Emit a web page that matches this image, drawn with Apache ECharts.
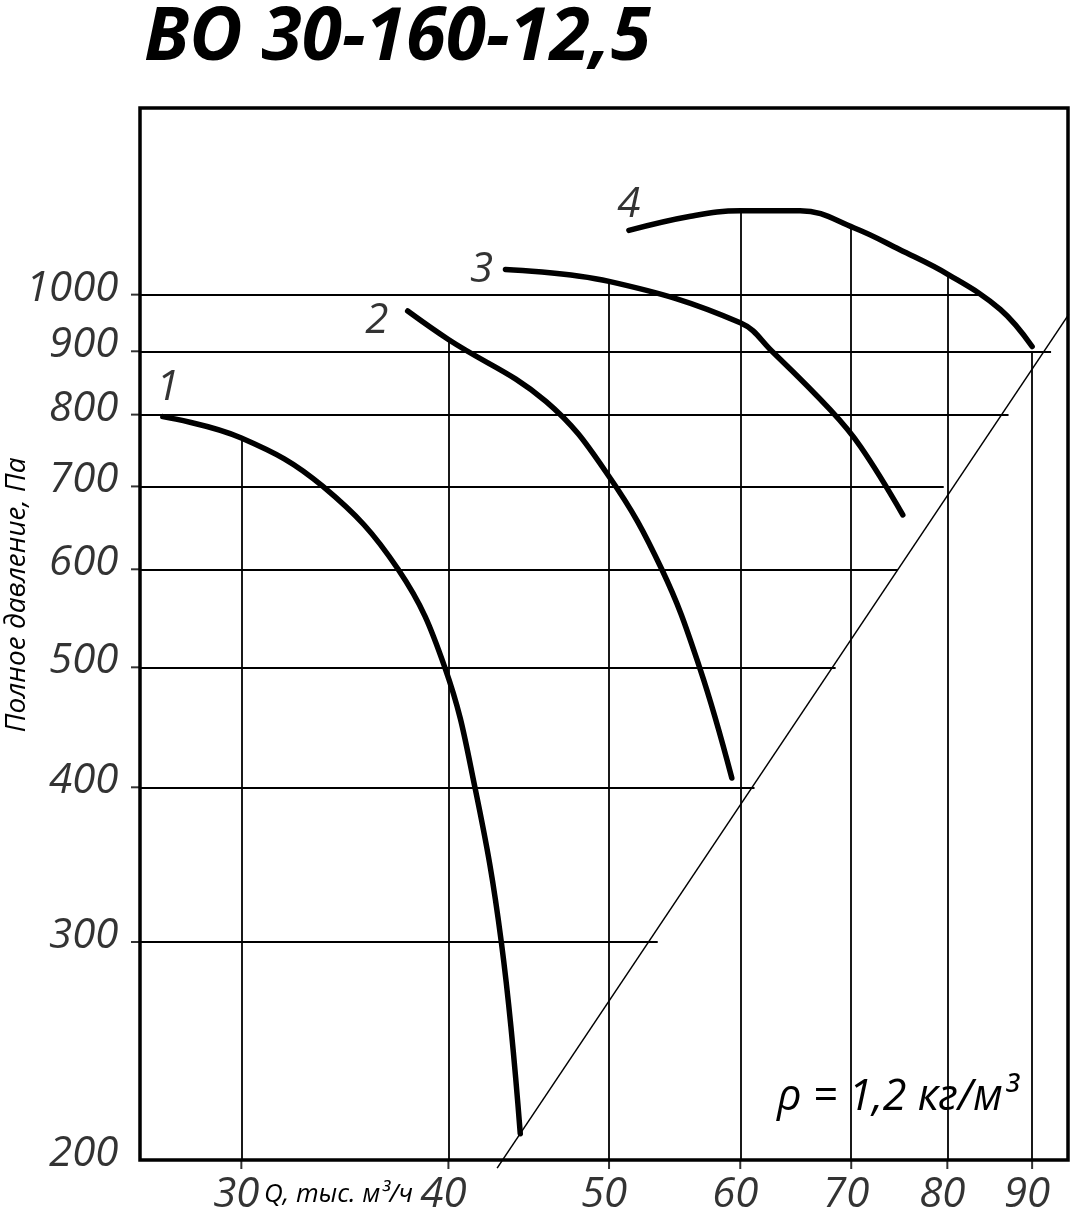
<!DOCTYPE html>
<html><head><meta charset="utf-8">
<script src="https://cdn.jsdelivr.net/npm/echarts@6/dist/echarts.min.js"></script>
<style>html,body{margin:0;padding:0;background:#fff}#c{width:1072px;height:1221px}</style>
</head><body><div id="c"></div>
<script>
// ---- data ----
const chartTitle = 'ВО 30-160-12,5';
const yAxisTitle = 'Полное давление, Па';
const xAxisTitle = 'Q, тыс. м³/ч';
const densityNote = 'ρ = 1,2 кг/м³';
const xTicks = [30, 40, 50, 60, 70, 80, 90];
const yTicks = [200, 300, 400, 500, 600, 700, 800, 900, 1000];
const xRange = [26.06, 94.6];
const yRange = [200, 1415];
const curveNames = ['1', '2', '3', '4'];
const curve1 = [[26.9,797],[30,766],[33.6,700],[37.3,600],[39.8,500],[41.5,400],[43.05,300],[44.2,210]];
const curve2 = [[37.8,970],[40,920],[45.8,820],[50,713],[53.8,600],[56.7,500],[59.3,407]];
const curve3 = [[43.3,1048],[50,1025],[60,949],[62.7,900],[68.0,807],[70.9,754],[75.2,664]];
const curve4 = [[51.4,1127],[56,1157],[60,1169],[65.2,1169],[70.3,1132],[74.9,1087],[80.1,1038],[86.1,973],[90,908]];
const systemLine = [[42.8,197],[94.7,964]];
const hGridValues = [300, 400, 500, 600, 700, 800, 900, 1000];
const hGridEnds = [53.5, 61.2, 68.5, 74.7, 79.6, 87.1, 92.4, 83.5];
const vGridValues = [30, 40, 50, 60, 70, 80, 90];
const vGridTops = [766, 920, 1025, 1169, 1132, 1038, 900];

// ---- presentation ----
const F = '"Open Sans", sans-serif';
const curves = [curve1, curve2, curve3, curve4];
const curveLabelOffsets = [[5,-29],[-31,10],[-24,1],[0,-25]];
const HIDDEN = 'rgba(0,0,0,0)';

const chart = echarts.init(document.getElementById('c'), null, {renderer: 'canvas'});

const lineCurve = (name, data) => ({
  type: 'line', name, data, smooth: 0.4, showSymbol: false, symbol: 'none',
  lineStyle: {color: '#000', width: 5.5, cap: 'round', join: 'round'},
  z: 5, silent: true
});

const gridLines = [];
hGridValues.forEach((v, i) => gridLines.push({coords: [[xRange[0], v], [hGridEnds[i], v]]}));
vGridValues.forEach((v, i) => gridLines.push({coords: [[v, yRange[0]], [v, vGridTops[i]]]}));

const labelFont = {fontSize: 42, fontStyle: 'italic', fontWeight: 500, fontFamily: F, color: '#000'};

const option = {
  animation: false,
  backgroundColor: '#fff',
  grid: {left: 140, right: 4, top: 108, bottom: 61, show: true, borderColor: '#000', borderWidth: 3.5,
         backgroundColor: 'transparent', outerBoundsMode: 'none'},
  xAxis: {type: 'log', logBase: 10, min: xRange[0], max: xRange[1],
          axisLine: {show: false}, axisTick: {show: false}, axisLabel: {show: false},
          splitLine: {show: false}, minorTick: {show: false}, minorSplitLine: {show: false}},
  yAxis: {type: 'log', logBase: 10, min: yRange[0], max: yRange[1],
          axisLine: {show: false}, axisTick: {show: false}, axisLabel: {show: false},
          splitLine: {show: false}, minorTick: {show: false}, minorSplitLine: {show: false}},
  graphic: [
    {type: 'text', x: 144, y: 39, silent: true,
     style: {text: chartTitle, fontSize: 73, fontStyle: 'italic', fontWeight: 'bold', fontFamily: F,
             fill: '#000', align: 'left', verticalAlign: 'middle'}},
    {type: 'text', x: 17, y: 595, rotation: Math.PI / 2, silent: true,
     style: {text: yAxisTitle, fontSize: 28, fontStyle: 'italic', fontFamily: F, fill: '#000',
             align: 'center', verticalAlign: 'middle'}},
    {type: 'text', x: 264, y: 1195, silent: true,
     style: {text: xAxisTitle, fontSize: 26, fontStyle: 'italic', fontFamily: F, fill: '#000',
             align: 'left', verticalAlign: 'middle'}},
    {type: 'text', x: 777, y: 1098, silent: true,
     style: {text: densityNote, fontSize: 43, fontStyle: 'italic', fontWeight: 500, fontFamily: F, fill: '#000',
             align: 'left', verticalAlign: 'middle'}}
  ],
  series: [
    {type: 'lines', coordinateSystem: 'cartesian2d', silent: true, z: 2,
     lineStyle: {color: '#000', width: 1.8, opacity: 1, curveness: 0},
     data: gridLines},
    {type: 'line', data: systemLine, clip: false, showSymbol: false, symbol: 'none', silent: true, z: 3,
     lineStyle: {color: '#000', width: 1.5}},
    {type: 'scatter', clip: false, silent: true, symbol: 'rect', symbolSize: [2, 9], symbolOffset: [0, 4.5],
     itemStyle: {color: '#000'}, data: xTicks.map(v => [v, yRange[0]])},
    {type: 'scatter', clip: false, silent: true, symbol: 'rect', symbolSize: [9, 2], symbolOffset: [-4.5, 0],
     itemStyle: {color: '#000'}, data: yTicks.slice(1).map(v => [xRange[0], v])},
    {type: 'scatter', clip: false, silent: true, symbolSize: 1, itemStyle: {color: HIDDEN},
     data: xTicks.map(v => [v, yRange[0]]),
     label: Object.assign({show: true, position: 'inside', offset: [-5, 35],
             formatter: p => String(p.value[0])}, labelFont)},
    {type: 'scatter', clip: false, silent: true, symbolSize: 1, itemStyle: {color: HIDDEN},
     data: yTicks.map(v => [xRange[0], v]),
     label: Object.assign({show: true, position: 'left', distance: 21, offset: [0, -6],
             formatter: p => String(p.value[1])}, labelFont)},
    ...curves.map((c, i) => lineCurve(curveNames[i], c)),
    {type: 'scatter', clip: false, silent: true, symbolSize: 1, itemStyle: {color: HIDDEN}, z: 6,
     data: curves.map((c, i) => ({value: c[0], name: curveNames[i], label: {offset: curveLabelOffsets[i]}})),
     label: Object.assign({show: true, position: 'inside', formatter: p => p.name}, labelFont)}
  ]
};
chart.setOption(option);
</script>
</body></html>
